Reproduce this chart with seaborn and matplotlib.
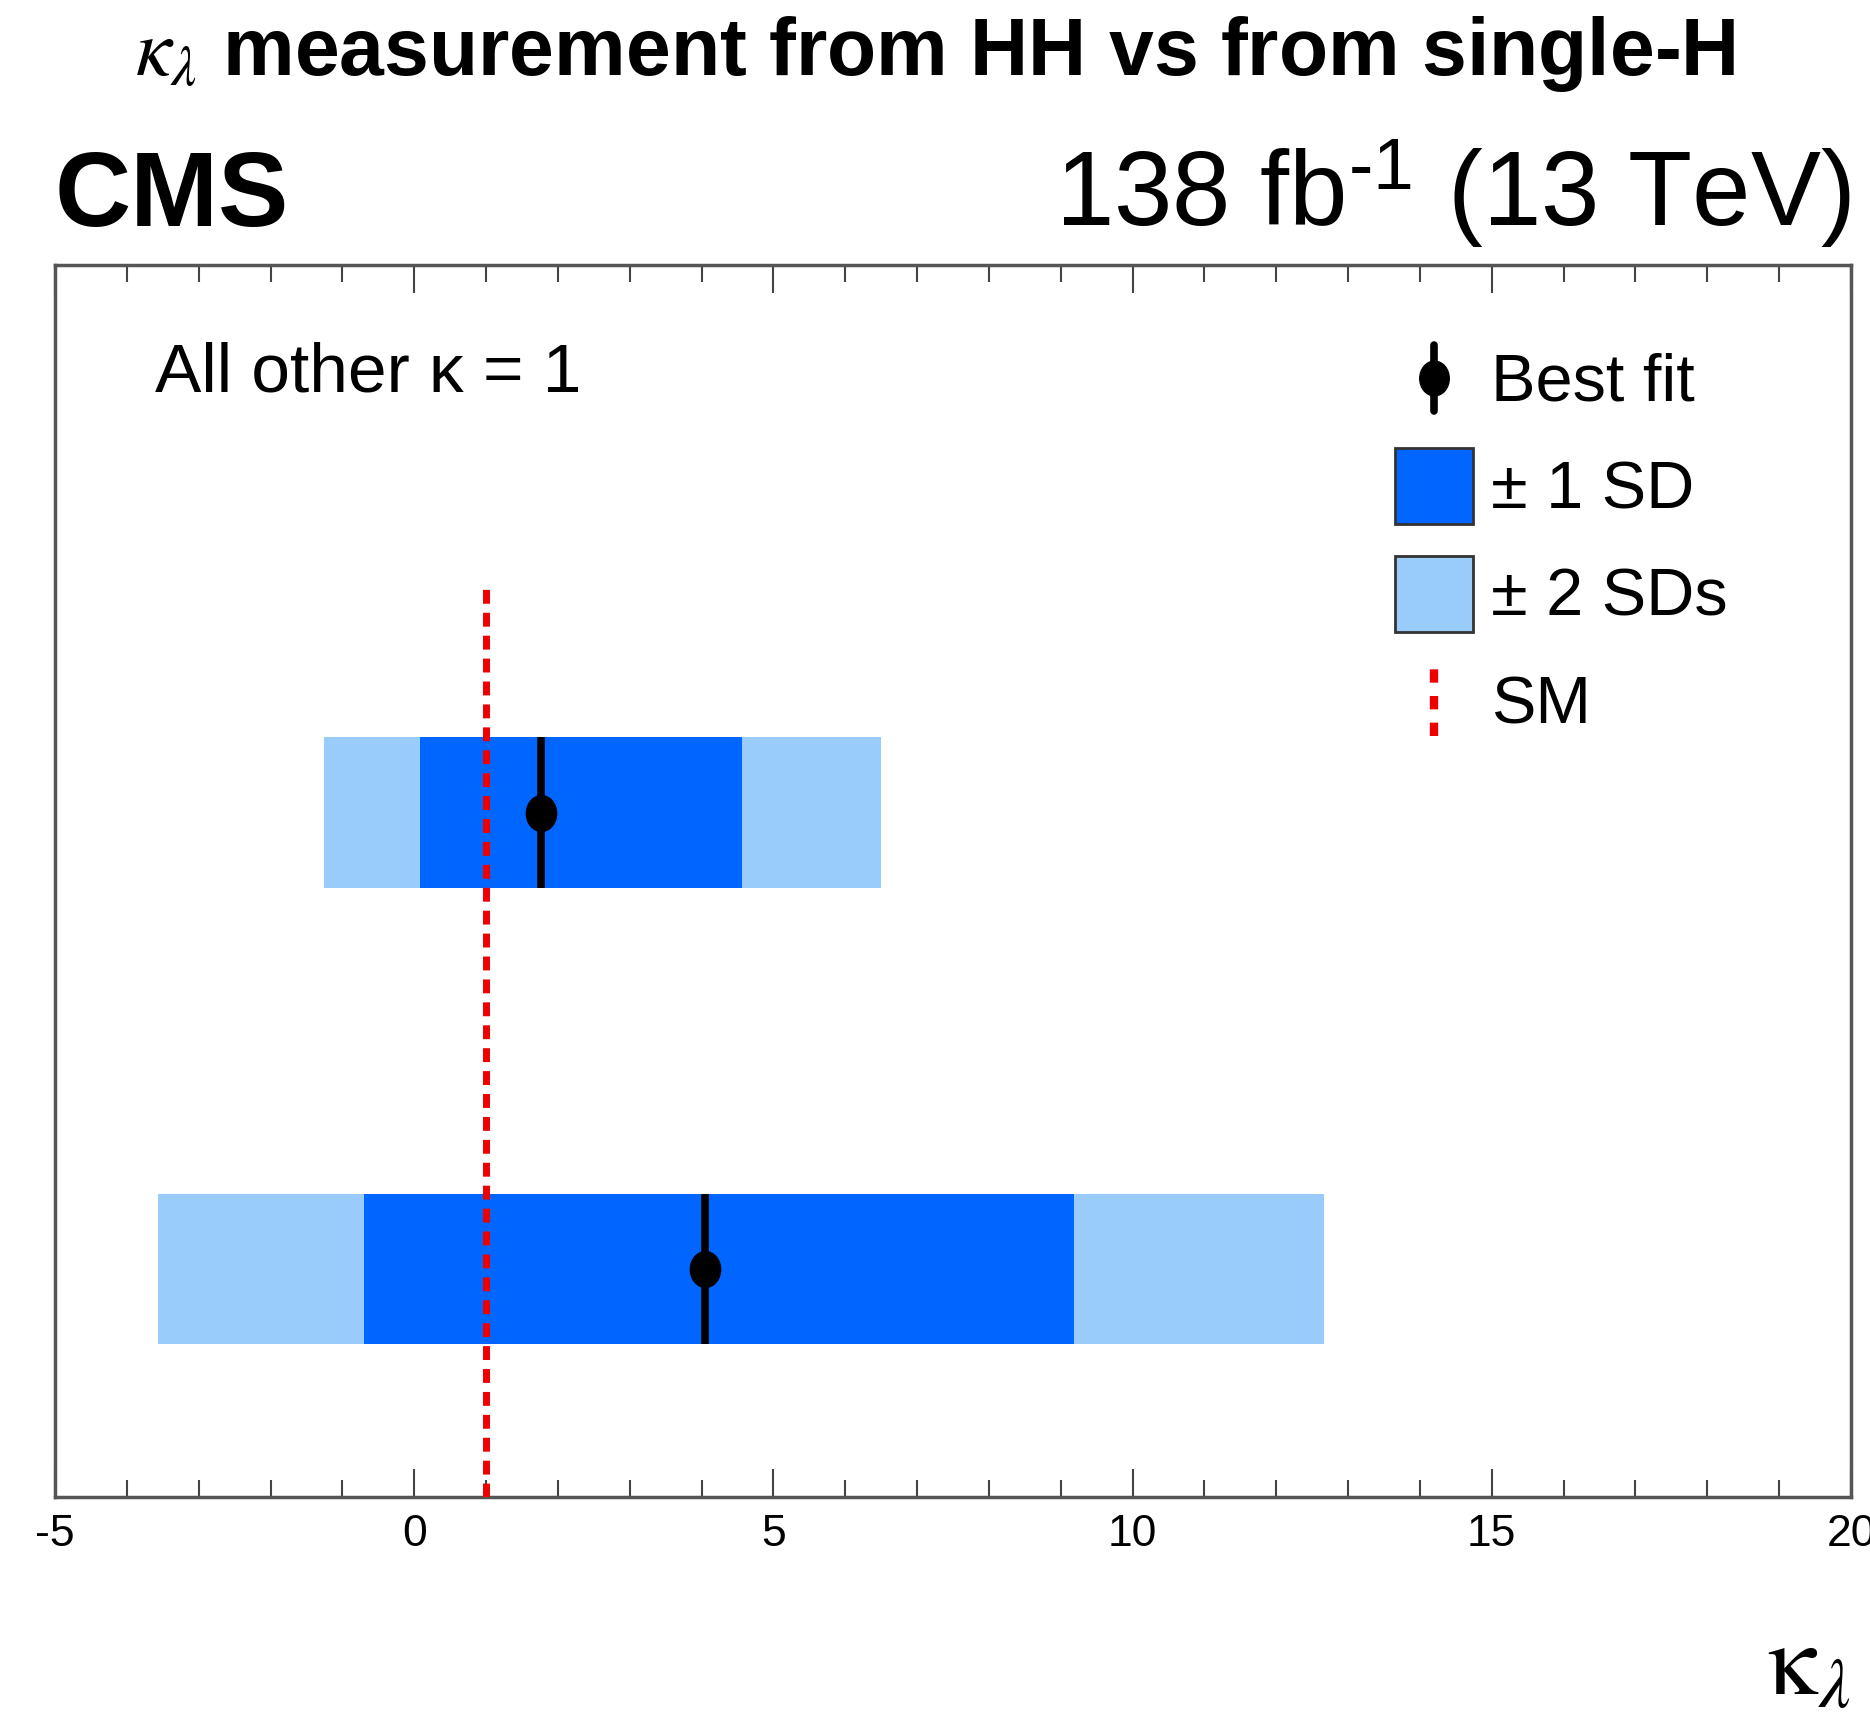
import matplotlib
matplotlib.use("Agg")
import matplotlib.pyplot as plt
import seaborn as sns
import numpy as np
from matplotlib.legend_handler import HandlerBase
from matplotlib.lines import Line2D
from matplotlib.patches import Patch
from matplotlib.path import Path
from matplotlib.ticker import MultipleLocator

# ---- data ----
categories = ["HH", "single-H"]
best_fit = [1.76, 4.05]
sd1_lo = [0.08, -0.70]
sd1_hi = [4.56, 9.19]
sd2_lo = [-1.25, -3.56]
sd2_hi = [6.50, 12.66]
sm_value = 1.0
xticks = [-5, 0, 5, 10, 15, 20]

sns.set_theme(style="ticks")
plt.rcParams['font.family'] = ['Liberation Sans', 'DejaVu Sans']
plt.rcParams['mathtext.fontset'] = 'stix'
plt.rcParams['text.color'] = 'black'
plt.rcParams['xtick.color'] = 'black'
plt.rcParams['xtick.labelcolor'] = 'black'

c1 = "#0066ff"
c2 = "#99ccfa"

# slightly taller-than-wide ellipse marker (ROOT style)
uc = Path.unit_circle()
ell = Path(uc.vertices * np.array([0.85, 1.0]), uc.codes)

fig = plt.figure(figsize=(18.7, 17.17), dpi=100)
ax = fig.add_axes([55/1870, 1 - 1497/1717, 1796/1870, (1497-265)/1717])

ypos = [1.5, 0.5]
h = 0.33
ax.barh(ypos, np.array(sd2_hi) - np.array(sd2_lo), left=sd2_lo, height=h,
        color=c2, edgecolor='none', zorder=1)
ax.barh(ypos, np.array(sd1_hi) - np.array(sd1_lo), left=sd1_lo, height=h,
        color=c1, edgecolor='none', zorder=2)
ax.plot([sm_value, sm_value], [0, 2.0], color='#ee0000', lw=5,
        linestyle=(0, (2.0, 1.3)), zorder=3)
eb = ax.errorbar(best_fit, ypos, yerr=h/2, fmt='none', ecolor='black',
                 elinewidth=5.5, capsize=0, zorder=4)
sns.scatterplot(x=best_fit, y=ypos, marker=ell, s=720, color='black',
                edgecolor='black', linewidth=0, ax=ax, zorder=5, legend=False)

ax.set_xlim(-5, 20)
ax.set_ylim(0, 2.7)
ax.set_yticks([])
ax.set_xticks(xticks)
ax.set_xticklabels([str(t) for t in xticks])
ax.xaxis.set_minor_locator(MultipleLocator(1))
ax.tick_params(axis='x', which='major', direction='in', top=True, bottom=True,
               length=20, width=1.5, color='#444444', labelsize=32, pad=12,
               labelcolor='black')
ax.tick_params(axis='x', which='minor', direction='in', top=True, bottom=True,
               length=12, width=1.5, color='#444444')
for s in ax.spines.values():
    s.set_color('#555555')
    s.set_linewidth(2.5)

ax.text(0.0557, 0.912, "All other κ = 1", transform=ax.transAxes,
        fontsize=50, va='center', ha='left', color='black')


class VLineHandler(HandlerBase):
    def create_artists(self, legend, orig_handle, xdescent, ydescent, width,
                       height, fontsize, trans):
        x = width / 2 - xdescent
        l = Line2D([x, x], [-ydescent + 0.05*height, height - ydescent - 0.05*height],
                   color='#ee0000', lw=6, linestyle=(0, (1.6, 1.6)))
        l.set_transform(trans)
        return [l]


class BestFitHandler(HandlerBase):
    def create_artists(self, legend, orig_handle, xdescent, ydescent, width,
                       height, fontsize, trans):
        x = width / 2 - xdescent
        yc = height / 2 - ydescent
        l = Line2D([x, x], [yc - 0.5*fontsize, yc + 0.5*fontsize], color='black',
                   lw=5.5)
        m = Line2D([x], [yc], marker=ell, markersize=25, color='black',
                   linestyle='none')
        l.set_transform(trans)
        m.set_transform(trans)
        return [l, m]


bf_handle = Line2D([], [], color='black')
sm_handle = Line2D([], [], color='#ee0000')
p1 = Patch(facecolor=c1, edgecolor='#333333', linewidth=2)
p2 = Patch(facecolor=c2, edgecolor='#333333', linewidth=2)
leg = ax.legend([bf_handle, p1, p2, sm_handle], ["Best fit", "± 1 SD", "± 2 SDs", "SM"],
                loc='upper left', bbox_to_anchor=((1395 - 55) / 1796, (1497 - 340) / 1232),
                frameon=False, fontsize=48, handlelength=1.17, handleheight=1.38,
                handletextpad=0.27, labelspacing=0.475, borderaxespad=0, borderpad=0,
                handler_map={sm_handle: VLineHandler(), bf_handle: BestFitHandler()})

fig.text(0.5, 1 - 54/1717, r"$\kappa_\lambda$ measurement from HH vs from single-H",
         ha='center', va='center', fontsize=58, fontweight='bold')
fig.text(55/1870, 1 - 226/1717, "CMS", ha='left', va='baseline', fontsize=76,
         fontweight='bold')
fig.text(1851/1870, 1 - 226/1717, r"138 fb$^{\mathregular{‐1}}$ (13 TeV)", ha='right',
         va='baseline', fontsize=75.5)
fig.text(1851/1870, 1 - 1695/1717, r"$\mathrm{\kappa}_{\lambda}$", ha='right',
         va='baseline', fontsize=72)

fig.savefig("out.png", dpi=100)
